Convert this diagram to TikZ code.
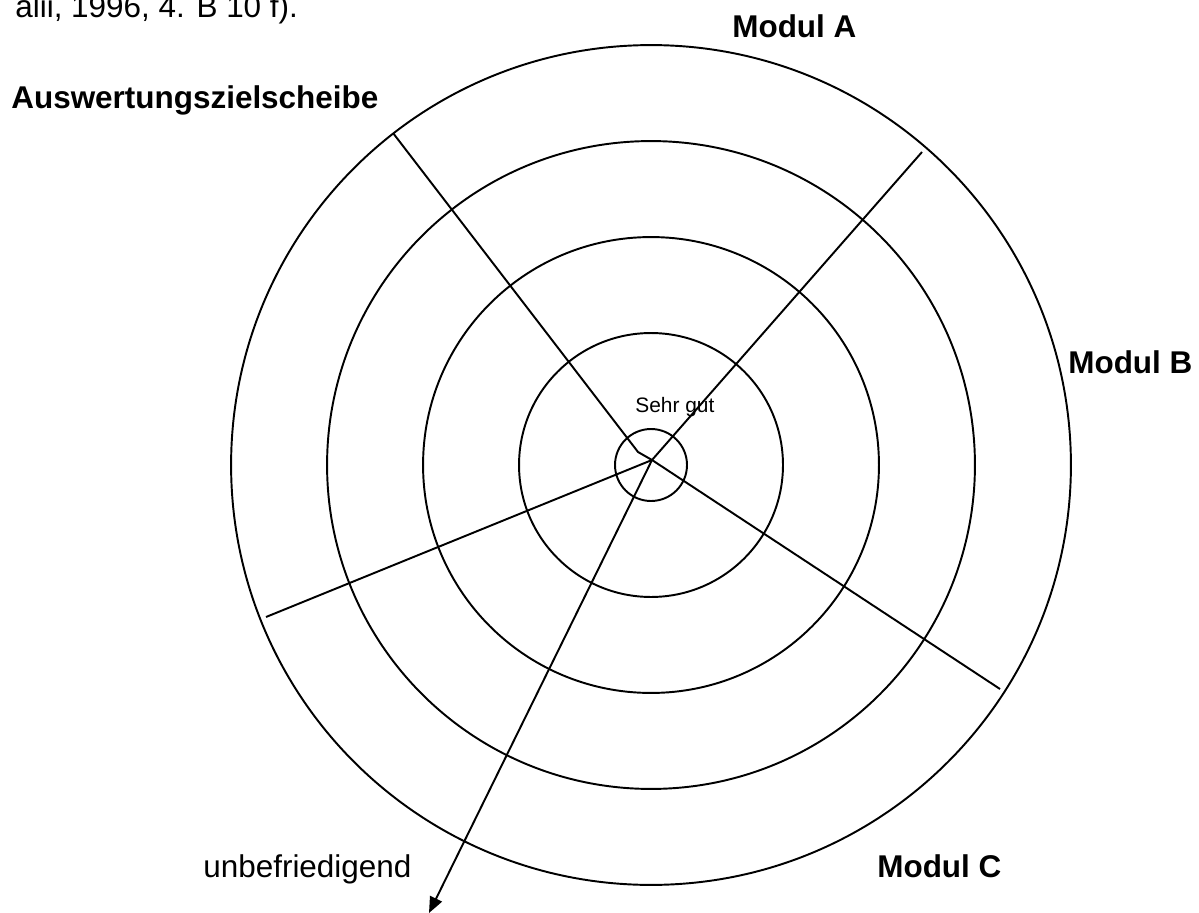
\documentclass[tikz,border=0pt]{standalone}
\usepackage{fontspec}
\setmainfont{Liberation Sans}
\usetikzlibrary{arrows.meta}
\tikzset{
  % Rings of the target
  ring/.style={line width=1.1pt,draw=black},
  % Spokes to the modules
  spoke/.style={line width=1.1pt,draw=black},
  % Arrow to the outside
  arr/.style={-{Triangle[length=0.32cm,width=0.26cm]},line width=1.1pt,draw=black},
  % Plain and bold labels
  lbl/.style={inner sep=0pt,anchor=base west,font=\fontsize{17.9}{21}\selectfont},
  hdr/.style={lbl,font=\fontsize{17.9}{21}\selectfont\bfseries},
  small/.style={inner sep=0pt,anchor=base west,font=\fontsize{11.9}{14}\selectfont},
}
\begin{document}
\begin{tikzpicture}[x=0.02cm,y=-0.02cm]
  \useasboundingbox (0,0) rectangle (1199,912);

  % Target rings
  \coordinate (ctr) at (651,465);
  \foreach \r in {0.72,2.64,4.56,6.48,8.40}
    \draw[ring] (ctr) circle[radius=\r cm];

  % Spokes
  \coordinate (hub) at (652,460);
  \coordinate (knick) at (638,452);
  \coordinate (endA1) at (393,133);
  \coordinate (endA2) at (922,152);
  \coordinate (endB) at (1000,689);
  \coordinate (endC) at (266,617);
  \coordinate (tip) at (429,913);
  \draw[spoke] (endA1) -- (knick) -- (hub);
  \draw[spoke] (hub) -- (endA2);
  \draw[spoke] (hub) -- (endB);
  \draw[spoke] (hub) -- (endC);
  \draw[arr] (hub) -- (tip);

  % Labels
  \node[lbl] (quelle) at (15,18) {alii, 1996, 4. B 10 f).};
  \node[hdr] (titel) at (11,109) {Auswertungszielscheibe};
  \node[hdr] (modA) at (732,38) {Modul A};
  \node[hdr] (modB) at (1068,373) {Modul B};
  \node[hdr] (modC) at (877,877) {Modul C};
  \node[lbl] (unbef) at (203,877) {unbefriedigend};
  \node[small] (gut) at (635,412) {Sehr gut};
\end{tikzpicture}
\end{document}
